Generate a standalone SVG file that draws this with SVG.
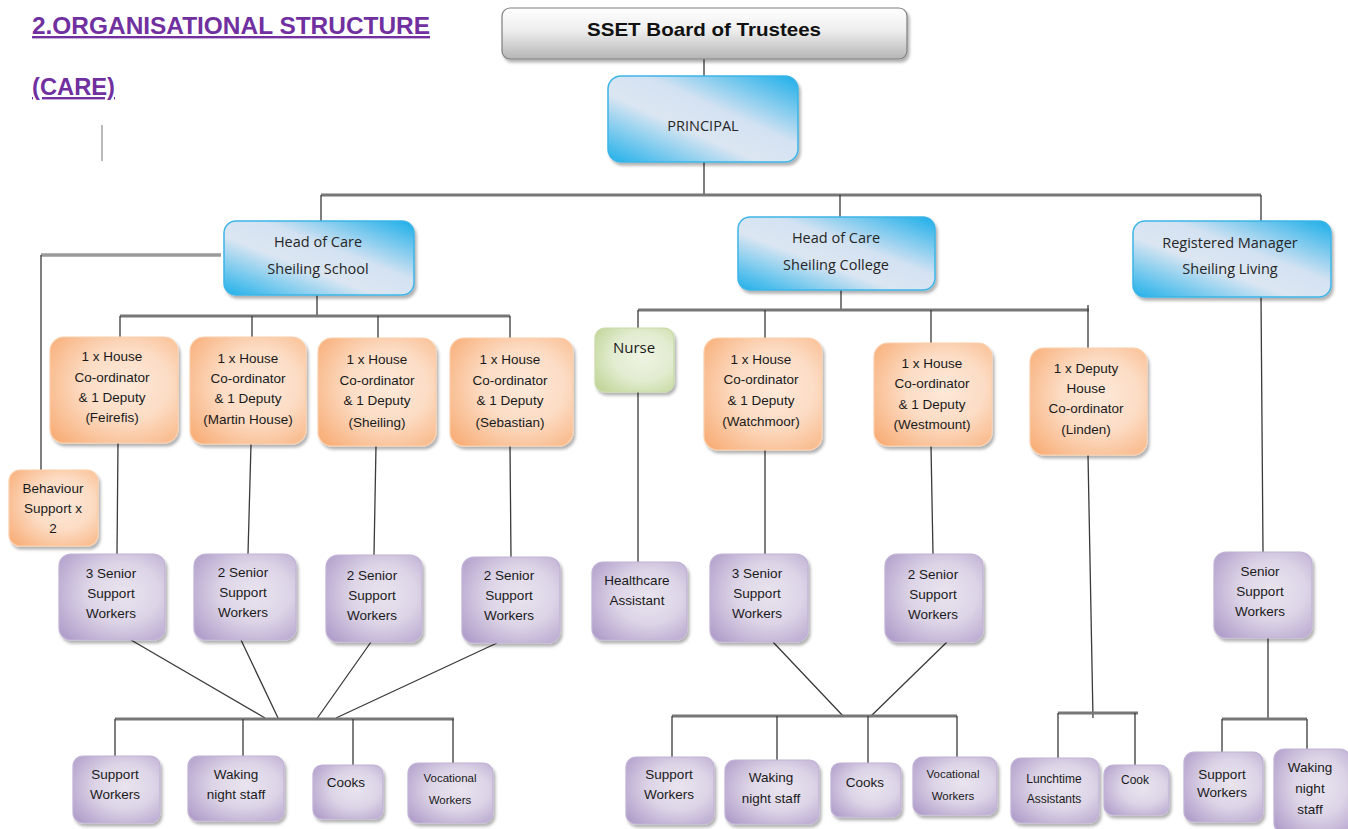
<svg xmlns="http://www.w3.org/2000/svg" width="1348" height="829" viewBox="0 0 1348 829">
<defs>
<filter id="sh" x="-10%" y="-10%" width="125%" height="130%">
<feDropShadow dx="2" dy="3" stdDeviation="1.5" flood-color="#000" flood-opacity="0.3"/>
</filter>
<linearGradient id="gBlue" x1="1" y1="0" x2="0" y2="1">
<stop offset="0" stop-color="#1aaee9"/>
<stop offset="0.4" stop-color="#d3e2f2"/>
<stop offset="0.6" stop-color="#dce6f2"/>
<stop offset="1" stop-color="#1fb0ea"/>
</linearGradient>
<radialGradient id="gOrange" cx="0.6" cy="0.45" r="0.75">
<stop offset="0" stop-color="#fde9d9"/>
<stop offset="0.45" stop-color="#fcdcc4"/>
<stop offset="1" stop-color="#f8ae78"/>
</radialGradient>
<radialGradient id="gPurple" cx="0.6" cy="0.45" r="0.75">
<stop offset="0" stop-color="#e9e4ef"/>
<stop offset="0.45" stop-color="#ddd5e7"/>
<stop offset="1" stop-color="#b09dca"/>
</radialGradient>
<radialGradient id="gGreen" cx="0.6" cy="0.45" r="0.75">
<stop offset="0" stop-color="#eef4e2"/>
<stop offset="0.5" stop-color="#e2ecd0"/>
<stop offset="1" stop-color="#c1d597"/>
</radialGradient>
<linearGradient id="gGrey" x1="0" y1="0" x2="0" y2="1">
<stop offset="0" stop-color="#ffffff"/>
<stop offset="0.45" stop-color="#ededed"/>
<stop offset="1" stop-color="#b5b5b5"/>
</linearGradient>
</defs>
<style>
.blue{fill:url(#gBlue);stroke:#3cb5e6;stroke-width:1.5;filter:url(#sh)}
.orange{fill:url(#gOrange);stroke:#fbcfac;stroke-width:1.2;filter:url(#sh)}
.purple{fill:url(#gPurple);stroke:#c1b3d5;stroke-width:1.2;filter:url(#sh)}
.green{fill:url(#gGreen);stroke:#c9dba8;stroke-width:1.2;filter:url(#sh)}
.grey{fill:url(#gGrey);stroke:#7f7f7f;stroke-width:1.2;filter:url(#sh)}
.t{font-family:"Liberation Sans",Arial,sans-serif;font-size:13.5px;fill:#1a1a1a;text-anchor:middle}
.ts{font-family:"Liberation Sans",Arial,sans-serif;font-size:12px;fill:#1a1a1a;text-anchor:middle}
.tv{font-family:"Liberation Sans",Arial,sans-serif;font-size:11.5px;fill:#1a1a1a;text-anchor:middle}
.tb{font-family:"Open Sans","Liberation Sans",sans-serif;font-size:14.5px;fill:#262626;text-anchor:middle}
.c{stroke:#3a3a3a;stroke-width:1.3;fill:none}
.bar{stroke:#777;stroke-width:3;fill:none}
.title{font-family:"Liberation Sans",Arial,sans-serif;font-weight:bold;font-size:24px;fill:#7030a0;text-decoration:underline}
</style>

<g id="title">
<text class="title" x="32" y="34" textLength="398" lengthAdjust="spacingAndGlyphs">2.ORGANISATIONAL STRUCTURE</text>
<text class="title" x="32" y="95" textLength="83" lengthAdjust="spacingAndGlyphs">(CARE)</text>
<line x1="102" y1="125" x2="102" y2="161" stroke="#8c8c8c" stroke-width="1.2"/>
</g>

<g id="connectors">
<path class="c" d="M704,59 V76 M704,162 V195"/>
<path class="bar" d="M321,195 H1261"/>
<path class="c" d="M321,195 V221 M840,195 V217 M1261,195 V221"/>
<path d="M221,255 H41" stroke="#9a9a9a" stroke-width="3.5" fill="none"/>
<path class="c" d="M41,255 V470"/>
<path class="c" d="M317,295 V316"/>
<path class="bar" d="M120,316 H510"/>
<path class="c" d="M120,316 V337 M252,316 V337 M378,316 V338 M510,316 V338"/>
<path class="c" d="M118,443 L117,554 M251,444 L248,554 M376,446 L374,555 M510,446 L511,557"/>
<path class="c" d="M131,640 L265,718 M241,640 L279,720 M371,642 L316,720 M497,643 L336,718"/>
<path class="bar" d="M115,719 H454"/>
<path class="c" d="M115,719 V756 M243,719 V756 M353,719 V765 M453,719 V763"/>
<path class="c" d="M841,290 V310"/>
<path class="bar" d="M638,310 H1089"/>
<path class="c" d="M1088,305 V348 M638,310 V328 M765,310 V338 M931,310 V343"/>
<path class="c" d="M638,392 V562 M765,450 V554 M931,446 L933,554 M1088,455 L1093,718"/>
<path class="c" d="M773,642 L844,717 M947,642 L870,717"/>
<path class="bar" d="M672,716 H957"/>
<path class="c" d="M672,716 V757 M777,716 V760 M868,716 V763 M957,716 V757"/>
<path class="bar" d="M1058,713 H1138"/>
<path class="c" d="M1058,713 V758 M1135,713 V765"/>
<path class="c" d="M1261,297 L1263,552 M1268,638 V719"/>
<path class="bar" d="M1222,719 H1307"/>
<path class="c" d="M1222,719 V752 M1307,719 V749"/>
</g>

<g id="board"><rect class="grey" x="502" y="8" width="405" height="51" rx="8"/>
<text x="704" y="36" font-family="Liberation Sans,Arial,sans-serif" font-weight="bold" font-size="18.5" fill="#111" text-anchor="middle" textLength="234" lengthAdjust="spacingAndGlyphs">SSET Board of Trustees</text></g>

<g id="principal"><rect class="blue" x="608" y="76" width="190" height="86" rx="13"/>
<text class="tb" x="703" y="131">PRINCIPAL</text></g>

<g id="hocSchool"><rect class="blue" x="224" y="221" width="190" height="74" rx="12"/>
<text class="tb" x="318" y="247">Head of Care</text><text class="tb" x="318" y="274">Sheiling School</text></g>

<g id="hocCollege"><rect class="blue" x="738" y="217" width="197" height="73" rx="12"/>
<text class="tb" x="836" y="243">Head of Care</text><text class="tb" x="836" y="270">Sheiling College</text></g>

<g id="regManager"><rect class="blue" x="1133" y="221" width="198" height="76" rx="12"/>
<text class="tb" x="1230" y="248">Registered Manager</text><text class="tb" x="1230" y="274">Sheiling Living</text></g>

<g id="behaviour"><rect class="orange" x="9" y="470" width="89" height="76" rx="11"/>
<text class="t" x="53" y="493">Behaviour</text><text class="t" x="53" y="513">Support x</text><text class="t" x="53" y="533">2</text></g>

<g id="feirefis"><rect class="orange" x="50" y="337" width="128" height="106" rx="14"/>
<text class="t" x="112" y="361">1 x House</text><text class="t" x="112" y="382">Co-ordinator</text><text class="t" x="112" y="402">&amp; 1 Deputy</text><text class="t" x="112" y="422">(Feirefis)</text></g>

<g id="martin"><rect class="orange" x="190" y="337" width="116" height="107" rx="14"/>
<text class="t" x="248" y="363">1 x House</text><text class="t" x="248" y="383">Co-ordinator</text><text class="t" x="248" y="403">&amp; 1 Deputy</text><text class="t" x="248" y="424">(Martin House)</text></g>

<g id="sheiling"><rect class="orange" x="318" y="338" width="118" height="108" rx="14"/>
<text class="t" x="377" y="364">1 x House</text><text class="t" x="377" y="385">Co-ordinator</text><text class="t" x="377" y="405">&amp; 1 Deputy</text><text class="t" x="377" y="427">(Sheiling)</text></g>

<g id="sebastian"><rect class="orange" x="450" y="338" width="123" height="108" rx="14"/>
<text class="t" x="510" y="364">1 x House</text><text class="t" x="510" y="385">Co-ordinator</text><text class="t" x="510" y="405">&amp; 1 Deputy</text><text class="t" x="510" y="427">(Sebastian)</text></g>

<g id="nurse"><rect class="green" x="595" y="328" width="79" height="64" rx="10"/>
<text x="634" y="353" font-family="Open Sans,Liberation Sans,sans-serif" font-size="15" fill="#1a1a1a" text-anchor="middle">Nurse</text></g>

<g id="watchmoor"><rect class="orange" x="704" y="338" width="118" height="112" rx="14"/>
<text class="t" x="761" y="364">1 x House</text><text class="t" x="761" y="384">Co-ordinator</text><text class="t" x="761" y="405">&amp; 1 Deputy</text><text class="t" x="761" y="426">(Watchmoor)</text></g>

<g id="westmount"><rect class="orange" x="874" y="343" width="118" height="103" rx="14"/>
<text class="t" x="932" y="368">1 x House</text><text class="t" x="932" y="388">Co-ordinator</text><text class="t" x="932" y="409">&amp; 1 Deputy</text><text class="t" x="932" y="429">(Westmount)</text></g>

<g id="linden"><rect class="orange" x="1030" y="348" width="117" height="107" rx="14"/>
<text class="t" x="1086" y="373">1 x Deputy</text><text class="t" x="1086" y="393">House</text><text class="t" x="1086" y="413">Co-ordinator</text><text class="t" x="1086" y="434">(Linden)</text></g>

<g id="senior1"><rect class="purple" x="59" y="554" width="106" height="86" rx="12"/>
<text class="t" x="111" y="578">3 Senior</text><text class="t" x="111" y="598">Support</text><text class="t" x="111" y="618">Workers</text></g>

<g id="senior2"><rect class="purple" x="194" y="554" width="102" height="86" rx="12"/>
<text class="t" x="243" y="577">2 Senior</text><text class="t" x="243" y="597">Support</text><text class="t" x="243" y="617">Workers</text></g>

<g id="senior3"><rect class="purple" x="326" y="555" width="96" height="87" rx="12"/>
<text class="t" x="372" y="580">2 Senior</text><text class="t" x="372" y="600">Support</text><text class="t" x="372" y="620">Workers</text></g>

<g id="senior4"><rect class="purple" x="462" y="557" width="98" height="86" rx="12"/>
<text class="t" x="509" y="580">2 Senior</text><text class="t" x="509" y="600">Support</text><text class="t" x="509" y="620">Workers</text></g>

<g id="healthcare"><rect class="purple" x="592" y="562" width="95" height="78" rx="11"/>
<text class="t" x="637" y="585">Healthcare</text><text class="t" x="637" y="605">Assistant</text></g>

<g id="senior5"><rect class="purple" x="710" y="554" width="98" height="88" rx="12"/>
<text class="t" x="757" y="578">3 Senior</text><text class="t" x="757" y="598">Support</text><text class="t" x="757" y="618">Workers</text></g>

<g id="senior6"><rect class="purple" x="885" y="554" width="98" height="88" rx="12"/>
<text class="t" x="933" y="579">2 Senior</text><text class="t" x="933" y="599">Support</text><text class="t" x="933" y="619">Workers</text></g>

<g id="senior7"><rect class="purple" x="1214" y="552" width="98" height="86" rx="12"/>
<text class="t" x="1260" y="576">Senior</text><text class="t" x="1260" y="596">Support</text><text class="t" x="1260" y="616">Workers</text></g>

<g id="b1"><rect class="purple" x="73" y="756" width="87" height="67" rx="10"/>
<text class="t" x="115" y="779">Support</text><text class="t" x="115" y="799">Workers</text></g>
<g id="b2"><rect class="purple" x="188" y="756" width="96" height="65" rx="10"/>
<text class="t" x="236" y="779">Waking</text><text class="t" x="236" y="799">night staff</text></g>
<g id="b3"><rect class="purple" x="313" y="765" width="70" height="54" rx="9"/>
<text class="t" x="346" y="787">Cooks</text></g>
<g id="b4"><rect class="purple" x="408" y="763" width="85" height="60" rx="10"/>
<text class="tv" x="450" y="782">Vocational</text><text class="tv" x="450" y="804">Workers</text></g>

<g id="b5"><rect class="purple" x="626" y="757" width="88" height="67" rx="10"/>
<text class="t" x="669" y="779">Support</text><text class="t" x="669" y="799">Workers</text></g>
<g id="b6"><rect class="purple" x="725" y="760" width="94" height="64" rx="10"/>
<text class="t" x="771" y="782">Waking</text><text class="t" x="771" y="803">night staff</text></g>
<g id="b7"><rect class="purple" x="831" y="763" width="70" height="54" rx="9"/>
<text class="t" x="865" y="787">Cooks</text></g>
<g id="b8"><rect class="purple" x="913" y="757" width="84" height="58" rx="10"/>
<text class="tv" x="953" y="778">Vocational</text><text class="tv" x="953" y="800">Workers</text></g>

<g id="b9"><rect class="purple" x="1011" y="758" width="88" height="65" rx="10"/>
<text class="ts" x="1054" y="783">Lunchtime</text><text class="ts" x="1054" y="803">Assistants</text></g>
<g id="b10"><rect class="purple" x="1104" y="765" width="65" height="50" rx="9"/>
<text class="ts" x="1135" y="784">Cook</text></g>

<g id="b11"><rect class="purple" x="1184" y="752" width="79" height="70" rx="10"/>
<text class="t" x="1222" y="779">Support</text><text class="t" x="1222" y="797">Workers</text></g>
<g id="b12"><rect class="purple" x="1274" y="749" width="76" height="84" rx="10"/>
<text class="t" x="1310" y="772">Waking</text><text class="t" x="1310" y="793">night</text><text class="t" x="1310" y="814">staff</text></g>
</svg>
